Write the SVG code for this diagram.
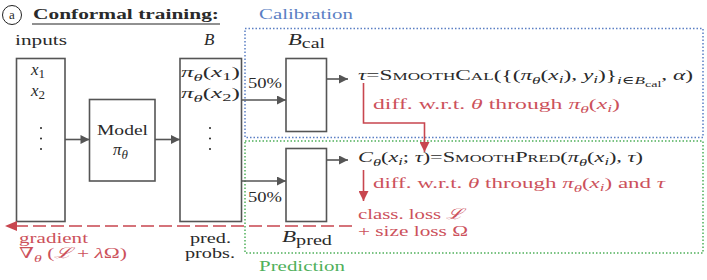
<svg xmlns="http://www.w3.org/2000/svg" width="707" height="280" viewBox="0 0 707 280">
<style>
text{font-family:"Liberation Serif","DejaVu Serif",serif;font-size:15px;fill:#2a2a2a}
.it{font-style:italic}
.s{font-size:11px}
.red{fill:#cc515b}
.box{fill:#fff;stroke:#555;stroke-width:1.6}
.conn{stroke:#555;stroke-width:1.6;fill:none}
.rl{stroke:#c8464f;stroke-width:1.6;fill:none}
</style>
<defs>
<marker id="ag" viewBox="0 0 10 10" refX="10" refY="5" markerWidth="10" markerHeight="9" markerUnits="userSpaceOnUse" orient="auto"><path d="M0,0 L10,5 L0,10 z" fill="#555"/></marker>
<marker id="ar" viewBox="0 0 10 10" refX="10" refY="5" markerWidth="11" markerHeight="10" markerUnits="userSpaceOnUse" orient="auto"><path d="M0,0 L10,5 L0,10 z" fill="#c8464f"/></marker>
</defs>

<g id="title">
<circle cx="12" cy="15" r="9.5" fill="none" stroke="#222" stroke-width="1"/>
<text x="12" y="19" text-anchor="middle" style="font-size:13px">a</text>
<text x="33" y="19" font-weight="bold" textLength="186" lengthAdjust="spacingAndGlyphs">Conformal training:</text>
<line x1="32" y1="24" x2="220" y2="24" stroke="#222" stroke-width="1"/>
</g>

<g id="calibration">
<rect x="245" y="28.5" width="458" height="109" fill="none" stroke="#5b7fc4" stroke-width="1.5" stroke-dasharray="1.5 2"/>
<text x="259" y="19" style="fill:#5b7fc4" textLength="94" lengthAdjust="spacingAndGlyphs">Calibration</text>
</g>
<g id="prediction">
<rect x="245" y="141" width="458" height="112" fill="none" stroke="#4fb05a" stroke-width="1.5" stroke-dasharray="1.5 2"/>
<text x="259" y="271" style="fill:#4fb05a" textLength="86" lengthAdjust="spacingAndGlyphs">Prediction</text>
</g>

<g id="inputs">
<text x="15" y="45" textLength="52" lengthAdjust="spacingAndGlyphs">inputs</text>
<rect class="box" x="16.5" y="58.5" width="48.5" height="163"/>
<text x="31" y="75" style="font-size:17px"><tspan class="it">x</tspan><tspan style="font-size:13px" dy="3">1</tspan></text>
<text x="31" y="96" style="font-size:17px"><tspan class="it">x</tspan><tspan style="font-size:13px" dy="3">2</tspan></text>
<circle cx="41" cy="128" r="1" fill="#222"/>
<circle cx="41" cy="138.5" r="1" fill="#222"/>
<circle cx="41" cy="149" r="1" fill="#222"/>
</g>

<g id="model">
<rect class="box" x="89.5" y="99.5" width="65.5" height="81.5"/>
<text x="97" y="135" textLength="51" lengthAdjust="spacingAndGlyphs">Model</text>
<text x="113" y="155" style="font-size:17px"><tspan class="it">π</tspan><tspan style="font-size:13px" class="it" dy="4">θ</tspan></text>
</g>

<g id="probs">
<text x="204" y="45" class="it" style="font-size:17px">B</text>
<rect class="box" x="180" y="58.5" width="61.5" height="163"/>
<text x="181" y="77" textLength="59" lengthAdjust="spacingAndGlyphs"><tspan class="it">π</tspan><tspan class="s it" dy="4">θ</tspan><tspan dy="-4">(</tspan><tspan class="it">x</tspan><tspan class="s" dy="3">1</tspan><tspan dy="-3">)</tspan></text>
<text x="181" y="98" textLength="59" lengthAdjust="spacingAndGlyphs"><tspan class="it">π</tspan><tspan class="s it" dy="4">θ</tspan><tspan dy="-4">(</tspan><tspan class="it">x</tspan><tspan class="s" dy="3">2</tspan><tspan dy="-3">)</tspan></text>
<circle cx="210" cy="128" r="1" fill="#222"/>
<circle cx="210" cy="138.5" r="1" fill="#222"/>
<circle cx="210" cy="149" r="1" fill="#222"/>
<text x="190" y="243" textLength="41" lengthAdjust="spacingAndGlyphs">pred.</text>
<text x="185" y="258" textLength="50" lengthAdjust="spacingAndGlyphs">probs.</text>
</g>

<g id="bcal">
<text x="288" y="45" textLength="37" lengthAdjust="spacingAndGlyphs"><tspan class="it" style="font-size:16px">B</tspan><tspan dy="3" style="font-size:14px">cal</tspan></text>
<rect class="box" x="286" y="58.5" width="40.5" height="73"/>
</g>
<g id="bpred">
<text x="282" y="242" textLength="50" lengthAdjust="spacingAndGlyphs"><tspan class="it" style="font-size:16px">B</tspan><tspan dy="3" style="font-size:14px">pred</tspan></text>
<rect class="box" x="286" y="148.5" width="40.5" height="73"/>
</g>

<g id="cal-formula">
<text x="358" y="80" textLength="335" lengthAdjust="spacingAndGlyphs"><tspan class="it">τ</tspan>=S<tspan class="s">MOOTH</tspan>C<tspan class="s">AL</tspan>({(<tspan class="it">π</tspan><tspan class="s it" dy="4">θ</tspan><tspan dy="-4">(</tspan><tspan class="it">x</tspan><tspan class="s it" dy="3">i</tspan><tspan dy="-3">), </tspan><tspan class="it">y</tspan><tspan class="s it" dy="3">i</tspan><tspan dy="-3">)}</tspan><tspan class="s it" dy="4">i</tspan><tspan class="s">∈</tspan><tspan class="s it">B</tspan><tspan style="font-size:9px" dy="3">cal</tspan><tspan dy="-7">, </tspan><tspan class="it">α</tspan>)</text>
<text class="red" x="373" y="109" textLength="247" lengthAdjust="spacingAndGlyphs">diff. w.r.t. <tspan class="it">θ</tspan> through <tspan class="it">π</tspan><tspan class="s it" dy="4">θ</tspan><tspan dy="-4">(</tspan><tspan class="it">x</tspan><tspan class="s it" dy="3">i</tspan><tspan dy="-3">)</tspan></text>
</g>

<g id="pred-formula">
<text x="358" y="162" textLength="285" lengthAdjust="spacingAndGlyphs"><tspan class="it">C</tspan><tspan class="s it" dy="4">θ</tspan><tspan dy="-4">(</tspan><tspan class="it">x</tspan><tspan class="s it" dy="3">i</tspan><tspan dy="-3">; </tspan><tspan class="it">τ</tspan>)=S<tspan class="s">MOOTH</tspan>P<tspan class="s">RED</tspan>(<tspan class="it">π</tspan><tspan class="s it" dy="4">θ</tspan><tspan dy="-4">(</tspan><tspan class="it">x</tspan><tspan class="s it" dy="3">i</tspan><tspan dy="-3">), </tspan><tspan class="it">τ</tspan>)</text>
<text class="red" x="373" y="188" textLength="292" lengthAdjust="spacingAndGlyphs">diff. w.r.t. <tspan class="it">θ</tspan> through <tspan class="it">π</tspan><tspan class="s it" dy="4">θ</tspan><tspan dy="-4">(</tspan><tspan class="it">x</tspan><tspan class="s it" dy="3">i</tspan><tspan dy="-3">) and </tspan><tspan class="it">τ</tspan></text>
<text class="red" x="358" y="219" textLength="105" lengthAdjust="spacingAndGlyphs">class. loss <tspan class="it">ℒ</tspan></text>
<text class="red" x="358" y="236" textLength="110" lengthAdjust="spacingAndGlyphs">+ size loss Ω</text>
</g>

<g id="gradient">
<text class="red" x="19" y="243" textLength="69" lengthAdjust="spacingAndGlyphs">gradient</text>
<text class="red" x="19" y="258" textLength="108" lengthAdjust="spacingAndGlyphs">∇<tspan class="s it" dy="4">θ</tspan><tspan dy="-4"> (</tspan><tspan class="it">ℒ</tspan> + <tspan class="it">λ</tspan>Ω)</text>
</g>

<g id="connectors">
<line class="conn" x1="65" y1="139.5" x2="89.5" y2="139.5" marker-end="url(#ag)"/>
<line class="conn" x1="155" y1="139.5" x2="180" y2="139.5" marker-end="url(#ag)"/>
<line class="conn" x1="241.5" y1="100" x2="286" y2="100" marker-end="url(#ag)"/>
<line class="conn" x1="241.5" y1="181" x2="286" y2="181" marker-end="url(#ag)"/>
<line class="conn" x1="326.5" y1="79" x2="348" y2="79" marker-end="url(#ag)"/>
<line class="conn" x1="326.5" y1="160" x2="348" y2="160" marker-end="url(#ag)"/>
<text x="248" y="88" textLength="34" lengthAdjust="spacingAndGlyphs">50%</text>
<text x="248" y="202" textLength="34" lengthAdjust="spacingAndGlyphs">50%</text>
<path class="rl" d="M363.5,83 V123 H424.5 V152" marker-end="url(#ar)"/>
<path class="rl" d="M363.5,170 V201" marker-end="url(#ar)"/>
<path class="rl" d="M352,226 H17" stroke-dasharray="13 5"/>
<path d="M5,226 L17,221 L17,231 z" fill="#c8464f"/>
</g>
</svg>
